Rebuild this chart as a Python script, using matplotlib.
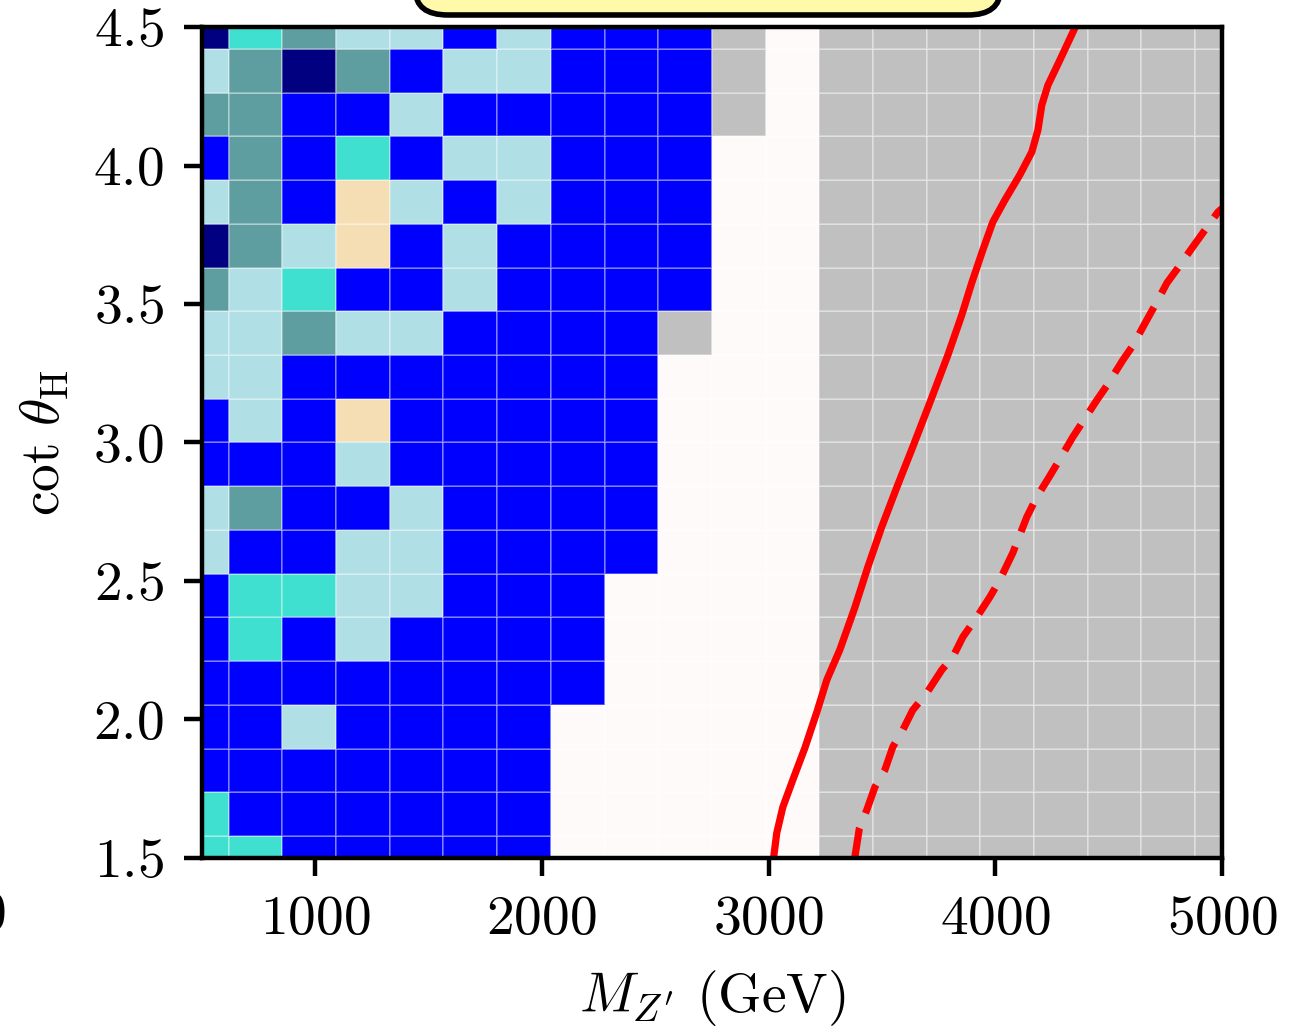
import numpy as np
import matplotlib
matplotlib.use("Agg")
import matplotlib.pyplot as plt
from matplotlib.colors import ListedColormap, BoundaryNorm
from matplotlib.patches import FancyBboxPatch

plt.rcParams['font.family'] = 'serif'
plt.rcParams['font.serif'] = ['cmr10']
plt.rcParams['mathtext.fontset'] = 'cm'
plt.rcParams['axes.formatter.use_mathtext'] = True

# scan grid (cell centres)
mass_pts = np.linspace(500, 5000, 20)
cot_pts = np.linspace(1.5, 4.5, 20)

# category of each grid point, top row (cot=4.5) first, columns M=500..5000
# N navy, B blue, C cadetblue, L light blue, T turquoise, W wheat, G excluded, S no signal
cat_rows = [
    "NTCLLBLBBBGSGGGGGGGG",
    "LCNCBLLBBBGSGGGGGGGG",
    "CCBBLBBBBBGSGGGGGGGG",
    "BCBTBLLBBBSSGGGGGGGG",
    "LCBWLBLBBBSSGGGGGGGG",
    "NCLWBLBBBBSSGGGGGGGG",
    "CLTBBLBBBBSSGGGGGGGG",
    "LLCLLBBBBGSSGGGGGGGG",
    "LLBBBBBBBSSSGGGGGGGG",
    "BLBWBBBBBSSSGGGGGGGG",
    "BBBLBBBBBSSSGGGGGGGG",
    "LCBBLBBBBSSSGGGGGGGG",
    "LBBLLBBBBSSSGGGGGGGG",
    "BTTLLBBBSSSSGGGGGGGG",
    "BTBLBBBBSSSSGGGGGGGG",
    "BBBBBBBBSSSSGGGGGGGG",
    "BBLBBBBSSSSSGGGGGGGG",
    "BBBBBBBSSSSSGGGGGGGG",
    "TBBBBBBSSSSSGGGGGGGG",
    "TTBBBBBSSSSSGGGGGGGG",
]
cat_keys = "NBCLTWGS"
cat_colors = ['#000080', '#0000ff', '#5f9ea0', '#b0e0e6',
              '#40e0d0', '#f5deb3', '#c0c0c0', '#fffafa']

# exclusion contours (observed solid, expected dashed)
obs_m = [3022, 3036, 3063, 3107, 3160, 3213, 3257, 3314, 3380, 3438, 3499,
         3566, 3636, 3711, 3791, 3852, 3896, 3945, 3989, 4042, 4108, 4161,
         4188, 4205, 4232, 4285, 4353]
obs_cot = [1.5, 1.59, 1.684, 1.782, 1.897, 2.027, 2.143, 2.251, 2.403, 2.551,
           2.695, 2.839, 2.984, 3.143, 3.316, 3.46, 3.576, 3.695, 3.796,
           3.875, 3.966, 4.049, 4.128, 4.218, 4.29, 4.381, 4.5]
exp_m = [3380, 3400, 3433, 3469, 3513, 3548, 3592, 3636, 3698, 3764, 3813,
         3857, 3919, 3976, 4020, 4077, 4139, 4183, 4241, 4292, 4342, 4386,
         4448, 4492, 4563, 4607, 4668, 4717, 4757, 4801, 4871, 4915, 4982, 5000]
exp_cot = [1.5, 1.605, 1.673, 1.756, 1.818, 1.901, 1.962, 2.034, 2.096, 2.179,
           2.226, 2.298, 2.37, 2.442, 2.504, 2.601, 2.731, 2.803, 2.88, 2.95,
           3.02, 3.075, 3.153, 3.205, 3.298, 3.35, 3.442, 3.514, 3.576, 3.625,
           3.706, 3.756, 3.832, 3.845]

codes = np.array([[cat_keys.index(c) for c in row] for row in cat_rows[::-1]])

fig = plt.figure(figsize=(3.265, 2.5675), dpi=400)
ax = fig.add_axes([0.1545, 0.1646, 0.7812, 0.8091])

cmap = ListedColormap(cat_colors)
norm = BoundaryNorm(np.arange(-0.5, len(cat_colors) + 0.5), cmap.N)
ax.pcolormesh(mass_pts, cot_pts, codes, cmap=cmap, norm=norm, shading='nearest',
              edgecolors=(1, 1, 1, 0.3), linewidth=0.3)

ax.plot(obs_m, obs_cot, color='red', lw=1.3, solid_joinstyle='round')
ax.plot(exp_m, exp_cot, color='red', lw=1.3, ls=(0, (4.2, 2.2)))

ax.set_xlim(500, 5000)
ax.set_ylim(1.5, 4.5)
ax.set_xticks([1000, 2000, 3000, 4000, 5000])
ax.set_yticks([1.5, 2.0, 2.5, 3.0, 3.5, 4.0, 4.5])
ax.tick_params(labelsize=10, length=3.3, width=0.8)
for s in ax.spines.values():
    s.set_linewidth(0.8)

ax.set_xlabel(r'$M_{Z^\prime}$ (GeV)', fontsize=10, labelpad=4)
ax.set_ylabel(r'$\cot\,\theta_{\rm H}$', fontsize=10, labelpad=4)

# title box cut off at the top of the figure
box = FancyBboxPatch((0.318, 0.9854), 0.448, 0.06, transform=fig.transFigure,
                     boxstyle='round,pad=0,rounding_size=0.025',
                     facecolor='#fffaa9', edgecolor='black', lw=1.0,
                     clip_on=False)
fig.add_artist(box)

# tail of a neighbouring tick label
fig.text(0.005, 0.108, '0', fontsize=10, ha='right', va='center')

fig.savefig('out.png', dpi=400)
